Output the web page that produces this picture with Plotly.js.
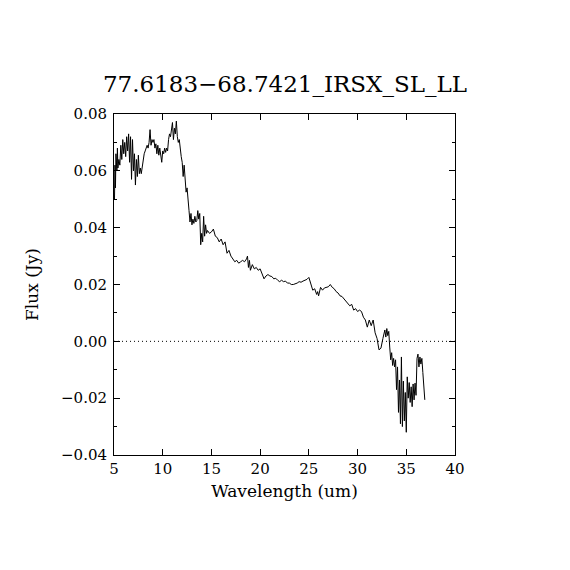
<!DOCTYPE html>
<html>
<head>
<meta charset="utf-8">
<script src="https://cdn.plot.ly/plotly-3.0.1.min.js"></script>
<style>html,body{margin:0;padding:0;background:#fff;}#chart{width:570px;height:570px;}</style>
</head>
<body>
<div id="chart"></div>
<script>
const wavelength = [
5.05,5.1,5.15,5.2,5.3,5.35,5.4,5.5,5.6,
5.7,5.8,5.9,6.0,6.1,6.2,6.3,6.4,
6.5,6.6,6.7,6.8,6.9,7.0,7.1,
7.2,7.3,7.4,7.5,7.6,7.7,7.8,7.9,
8.0,8.1,8.2,8.3,8.4,8.5,8.6,
8.7,8.8,8.9,9.0,9.1,
9.2,9.3,9.4,9.5,9.6,9.7,9.8,9.9,
10.0,10.1,10.2,10.3,10.4,10.5,
10.6,10.7,10.8,10.9,
11.0,11.1,11.2,11.3,11.4,11.5,11.6,11.7,11.8,11.9,
12.0,12.1,12.2,12.3,12.4,12.5,12.6,12.7,12.8,12.9,13.0,
13.1,13.2,13.3,13.4,13.5,13.6,13.7,13.8,13.9,14.0,14.1,
14.2,14.3,14.4,14.5,14.6,14.8,15.0,15.2,15.4,15.6,15.8,16.0,
16.2,16.4,16.6,16.8,17.0,17.2,17.4,17.6,17.8,18.0,18.2,18.4,18.6,
18.7,18.8,18.9,19.0,19.2,19.4,19.6,19.8,20.0,20.2,20.4,
20.6,20.8,21.0,21.2,21.4,21.6,21.8,22.0,22.2,22.4,22.6,22.8,
23.0,23.2,23.4,23.6,23.8,24.0,24.2,24.4,24.6,24.8,25.0,
25.2,25.4,25.6,25.8,25.9,26.0,26.2,26.4,26.6,26.8,27.0,27.2,
27.4,27.6,27.8,28.0,28.2,28.4,28.6,28.8,29.0,29.2,29.4,29.6,29.8,
30.0,30.2,30.4,30.6,30.8,31.0,31.2,31.4,31.6,31.8,32.0,32.2,32.4,
32.6,32.8,32.9,33.0,33.1,33.2,33.3,33.4,33.5,33.6,33.7,33.8,33.9,
34.0,34.1,34.2,34.3,34.4,34.5,34.6,34.7,34.8,34.9,35.0,
35.1,35.2,35.3,35.4,35.5,35.6,35.7,35.8,35.9,36.0,
36.1,36.2,36.3,36.4,36.5,36.6,36.7,36.8,36.9
];
const flux = [
0.050,0.062,0.054,0.066,0.060,0.068,0.061,0.064,0.062,
0.069,0.064,0.071,0.066,0.070,0.065,0.072,0.067,
0.073,0.063,0.072,0.057,0.071,0.060,0.066,
0.055,0.064,0.058,0.0655,0.059,0.061,0.059,0.062,
0.065,0.066,0.067,0.068,0.069,0.068,0.070,
0.0745,0.069,0.071,0.070,0.071,
0.068,0.0695,0.066,0.069,0.0655,0.068,0.066,0.063,
0.067,0.066,0.068,0.0665,0.068,0.067,
0.071,0.073,0.072,0.076,
0.077,0.071,0.075,0.073,0.0775,0.072,0.070,0.071,0.067,0.065,
0.063,0.058,0.062,0.056,0.0525,0.054,0.048,0.046,0.042,0.045,0.041,
0.043,0.0415,0.044,0.042,0.0425,0.046,0.043,0.045,0.034,0.038,0.035,
0.044,0.037,0.041,0.038,0.039,0.038,0.0385,0.0395,0.037,0.0365,0.035,0.036,
0.034,0.035,0.031,0.032,0.030,0.029,0.028,0.0285,0.0275,0.028,0.0285,0.028,0.029,
0.030,0.026,0.0285,0.025,0.027,0.0255,0.026,0.025,0.0255,0.0235,0.022,
0.023,0.0235,0.023,0.0228,0.022,0.0222,0.0215,0.021,0.0215,0.021,0.0212,0.0205,
0.0205,0.020,0.020,0.0202,0.0205,0.021,0.0208,0.0212,0.0215,0.0218,0.0225,
0.020,0.018,0.0185,0.0165,0.0175,0.016,0.019,0.018,0.0188,0.019,0.0192,0.020,
0.019,0.0185,0.0175,0.017,0.016,0.0158,0.015,0.0145,0.0135,0.0125,0.013,0.011,0.0115,
0.0105,0.011,0.0105,0.0085,0.0075,0.005,0.0075,0.0055,0.0075,0.003,0.001,-0.003,-0.0024,
0.001,0.004,0.0015,0.0045,0.002,0.0035,-0.002,-0.0065,-0.004,-0.0085,-0.006,-0.009,-0.0065,
-0.017,-0.009,-0.025,-0.0136,-0.029,-0.0055,-0.030,-0.014,-0.028,-0.018,-0.032,
-0.0125,-0.020,-0.0145,-0.0215,-0.016,-0.023,-0.015,-0.0206,-0.0147,-0.019,
-0.006,-0.0045,-0.009,-0.0055,-0.008,-0.006,-0.011,-0.016,-0.0206
];
const titleText = "77.6183\u221268.7421_IRSX_SL_LL";
const xLabel = "Wavelength (um)";
const yLabel = "Flux (Jy)";
const xTicks = [5,10,15,20,25,30,35,40];
const yTicks = [-0.04,-0.02,0.00,0.02,0.04,0.06,0.08];
const yTickText = ["\u22120.04","\u22120.02","0.00","0.02","0.04","0.06","0.08"];
const yMinorTicks = [-0.03,-0.01,0.01,0.03,0.05,0.07];

const F = "DejaVu Serif, Liberation Serif, serif";
const axisCommon = {
  showline: true, linecolor: "#000", linewidth: 1, mirror: "ticks",
  ticks: "inside", tickcolor: "#000", tickwidth: 1,
  showgrid: false, zeroline: false,
  tickfont: {family: F, size: 15, color: "#000"}
};
const layout = {
  width: 570, height: 570,
  margin: {l: 114, r: 115, t: 114, b: 115},
  paper_bgcolor: "#fff", plot_bgcolor: "#fff",
  showlegend: false,
  title: {text: titleText, font: {family: F, size: 23, color: "#000"}, x: 0.5, xanchor: "center", y: 1 - 84/570, yanchor: "middle"},
  xaxis: Object.assign({}, axisCommon, {
    range: [5, 40], tickvals: xTicks, ticktext: xTicks.map(String), ticklen: 6,
    title: {text: xLabel, font: {family: F, size: 17, color: "#000"}, standoff: 8}
  }),
  yaxis: Object.assign({}, axisCommon, {
    range: [-0.04, 0.08], tickvals: yTicks, ticktext: yTickText, ticklen: 6,
    ticklabelstandoff: 3,
    minor: {tickvals: yMinorTicks, ticks: "inside", ticklen: 3, tickcolor: "#000", tickwidth: 1},
    title: {text: yLabel, font: {family: F, size: 17, color: "#000"}, standoff: 18}
  }),
  shapes: [{type: "line", xref: "paper", x0: 0, x1: 1, yref: "y", y0: 0, y1: 0,
            line: {color: "#000", width: 1, dash: "1px,3px"}}]
};
Plotly.newPlot("chart", [{
  x: wavelength, y: flux, type: "scatter", mode: "lines",
  line: {color: "#000", width: 1}, hoverinfo: "skip"
}], layout, {staticPlot: true, displayModeBar: false});
</script>
</body>
</html>
